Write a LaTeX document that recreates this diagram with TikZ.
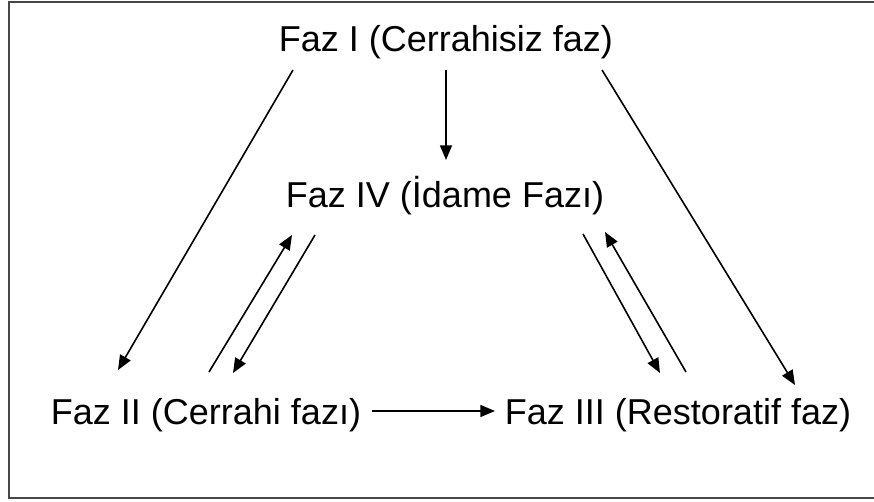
\documentclass[tikz,border=0pt]{standalone}
\usepackage{fontspec}
\setmainfont{Liberation Sans}
\usetikzlibrary{arrows.meta,calc}

\begin{document}
\begin{tikzpicture}[
  x=0.75pt, y=-0.75pt,
  faz/.style={anchor=base, inner sep=0pt, font=\fontsize{27pt}{32pt}\selectfont},
  arr/.style={-{Triangle[length=11pt, width=9pt]}, line width=1.2pt},
  frame/.style={line width=1.6pt, draw=black!72}
]
\useasboundingbox (0,0) rectangle (874,502);
\draw[frame] (874,2) -- (9,2) -- (9,498) -- (874,498);

\node[faz] (f1) at (446,52) {Faz I (Cerrahisiz faz)};
\node[faz] (f4) at (445,208) {Faz IV (İdame Fazı)};
\node[faz] (f2) at (206,424) {Faz II (Cerrahi fazı)};
\node[faz] (f3) at (678,424) {Faz III (Restoratif faz)};

% from phase I
\draw[arr] ($(f1.base)+(-153,18)$) -- ($(f2.base)+(-88,-54)$);
\draw[arr] ($(f1.base)+(0,18)$) -- ($(f4.base)+(1,-48)$);
\draw[arr] ($(f1.base)+(156,18)$) -- ($(f3.base)+(117,-39)$);

% to and from phase IV
\draw[arr] ($(f2.base)+(3,-52)$) -- ($(f4.base)+(-153,27)$);
\draw[arr] ($(f4.base)+(-130,27)$) -- ($(f2.base)+(27,-51)$);
\draw[arr] ($(f4.base)+(138,26)$) -- ($(f3.base)+(-18,-51)$);
\draw[arr] ($(f3.base)+(8,-52)$) -- ($(f4.base)+(160,24)$);

\draw[arr] ($(f2.base)+(166,-13)$) -- ($(f3.base)+(-183,-13)$);
\end{tikzpicture}
\end{document}
